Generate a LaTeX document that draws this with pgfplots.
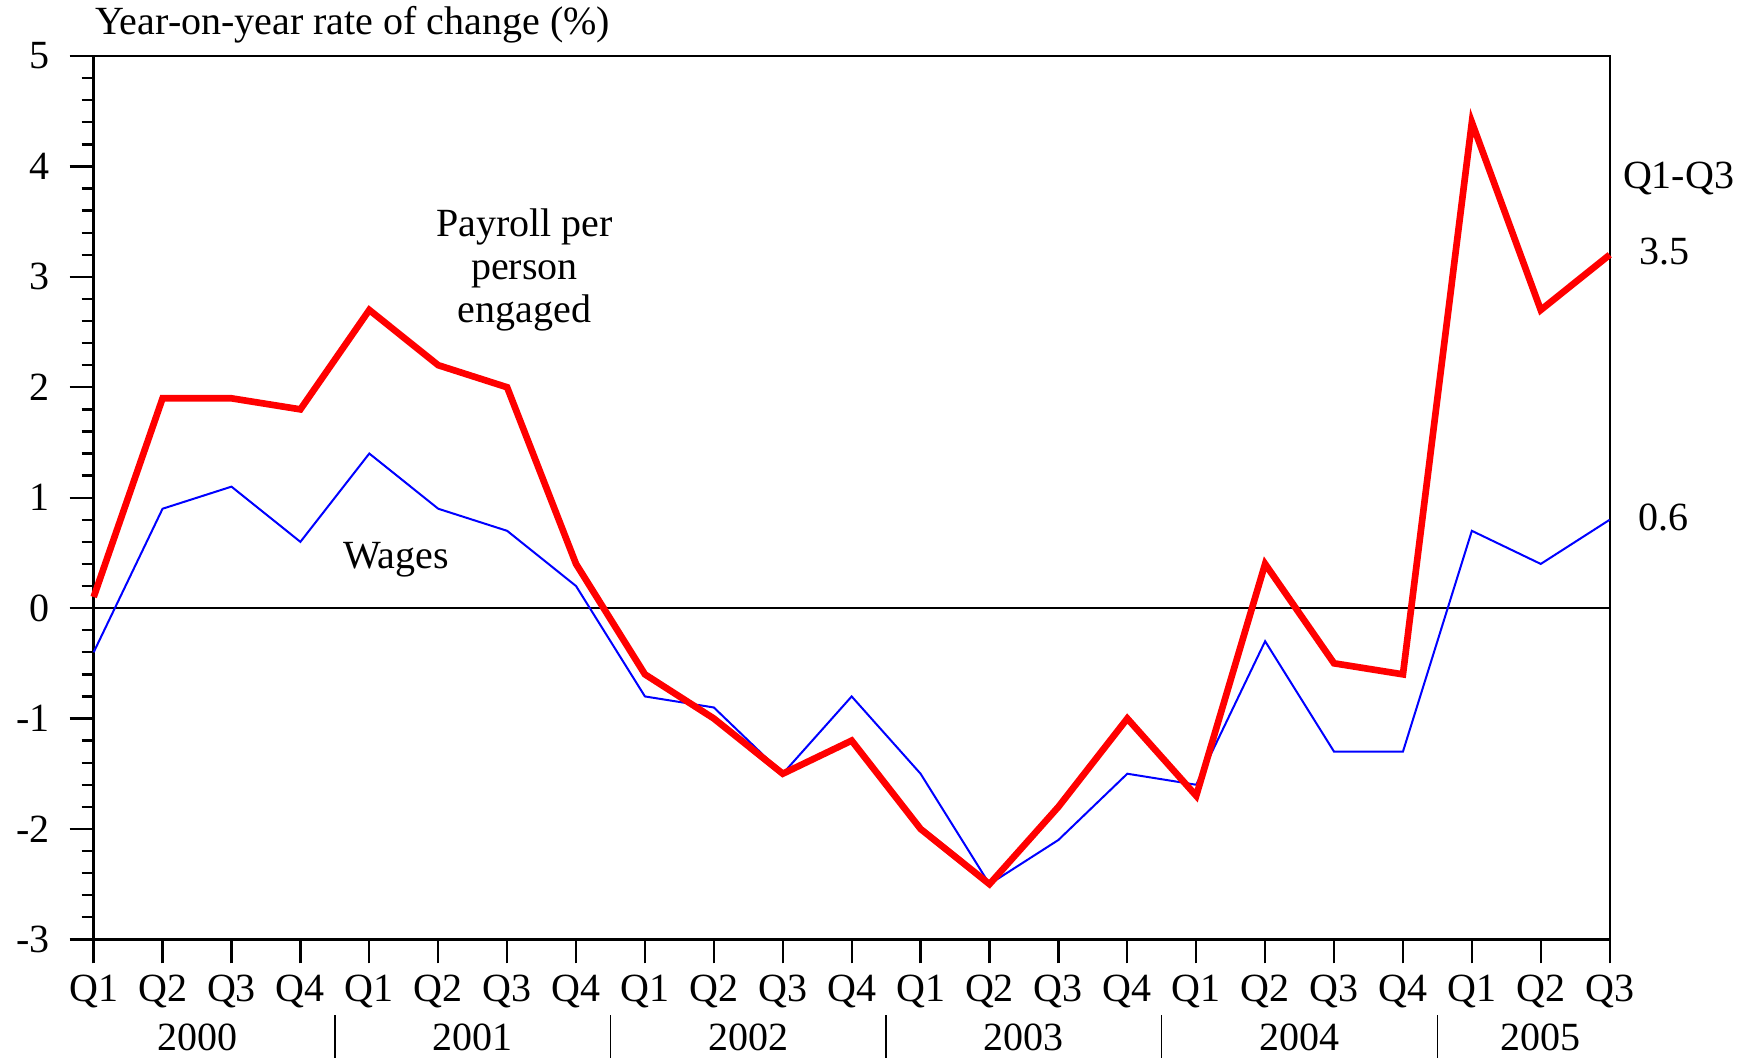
\documentclass[border=0pt]{standalone}
\usepackage{fontspec}
\setmainfont{Liberation Serif}
\usepackage{pgfplots}
\pgfplotsset{compat=1.18}

\pgfplotstableread{
q  payroll wages
0   0.1  -0.4
1   1.9   0.9
2   1.9   1.1
3   1.8   0.6
4   2.7   1.4
5   2.2   0.9
6   2.0   0.7
7   0.4   0.2
8  -0.6  -0.8
9  -1.0  -0.9
10 -1.5  -1.5
11 -1.2  -0.8
12 -2.0  -1.5
13 -2.5  -2.5
14 -1.8  -2.1
15 -1.0  -1.5
16 -1.7  -1.6
17  0.4  -0.3
18 -0.5  -1.3
19 -0.6  -1.3
20  4.4   0.7
21  2.7   0.4
22  3.2   0.8
}\ratedata

\newcommand{\lbl}{\fontsize{12}{12.9}\selectfont}

\begin{document}
\begin{tikzpicture}
\useasboundingbox (0pt,0pt) rectangle (524.7pt,317.1pt);
\begin{axis}[
  at={(28.1pt,35.3pt)}, anchor=south west,
  scale only axis, width=454.8pt, height=265pt,
  xmin=0, xmax=22, ymin=-3, ymax=5,
  xtick={0,...,22},
  xticklabels={Q1,Q2,Q3,Q4,Q1,Q2,Q3,Q4,Q1,Q2,Q3,Q4,Q1,Q2,Q3,Q4,Q1,Q2,Q3,Q4,Q1,Q2,Q3},
  ytick={-3,-2,-1,0,1,2,3,4,5},
  yticklabels={-3,-2,-1,0,1,2,3,4,5},
  minor y tick num=4,
  tick align=outside, xtick pos=bottom, ytick pos=left,
  major tick length=7.2pt, minor tick length=3.6pt,
  axis line style={line width=0.7pt},
  tick style={line width=0.7pt, black},
  every tick label/.append style={font=\lbl},
  yticklabel style={xshift=-2.4pt},
  clip=false,
]
\addplot[black, line width=0.7pt] coordinates {(0,0) (22,0)};
\addplot[blue, line width=0.6pt] table[x=q, y=wages] {\ratedata};
\addplot[red, line width=2pt] table[x=q, y=payroll] {\ratedata};

\node[font=\lbl, align=center] at (axis cs:6.25,3.06) {Payroll per\\person\\engaged};
\node[font=\lbl] at (axis cs:4.39,0.44) {Wages};
\node[font=\lbl] at (axis cs:23.0,3.89) {Q1-Q3};
\node[font=\lbl] at (axis cs:22.79,3.23) {3.5};
\node[font=\lbl] at (axis cs:22.78,0.82) {0.6};

\node[font=\lbl] at ([yshift=-29.4pt]axis cs:1.5,-3) {2000};
\node[font=\lbl] at ([yshift=-29.4pt]axis cs:5.5,-3) {2001};
\node[font=\lbl] at ([yshift=-29.4pt]axis cs:9.5,-3) {2002};
\node[font=\lbl] at ([yshift=-29.4pt]axis cs:13.5,-3) {2003};
\node[font=\lbl] at ([yshift=-29.4pt]axis cs:17.5,-3) {2004};
\node[font=\lbl] at ([yshift=-29.4pt]axis cs:21,-3) {2005};

\draw[line width=0.4pt] ([yshift=-22.8pt]axis cs:3.5,-3) -- ([yshift=-36pt]axis cs:3.5,-3);
\draw[line width=0.4pt] ([yshift=-22.8pt]axis cs:7.5,-3) -- ([yshift=-36pt]axis cs:7.5,-3);
\draw[line width=0.4pt] ([yshift=-22.8pt]axis cs:11.5,-3) -- ([yshift=-36pt]axis cs:11.5,-3);
\draw[line width=0.4pt] ([yshift=-22.8pt]axis cs:15.5,-3) -- ([yshift=-36pt]axis cs:15.5,-3);
\draw[line width=0.4pt] ([yshift=-22.8pt]axis cs:19.5,-3) -- ([yshift=-36pt]axis cs:19.5,-3);
\end{axis}
\node[font=\lbl, anchor=west] at (25pt,309.8pt) {Year-on-year rate of change (\%)};
\end{tikzpicture}
\end{document}
